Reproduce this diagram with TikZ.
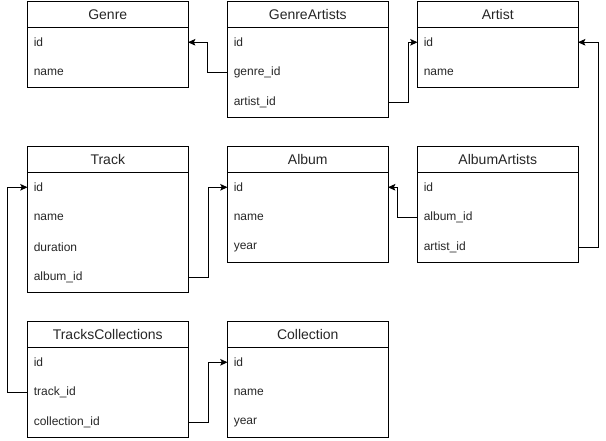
\documentclass[tikz,border=0pt]{standalone}
\usepackage{fontspec}
\setmainfont{Liberation Sans}
\usetikzlibrary{calc,arrows.meta}
\tikzset{
  x=0.75pt, y=-0.75pt,
  hdr/.style={inner sep=0pt, minimum width=120pt, minimum height=19.5pt, anchor=north west, font=\fontsize{10.5}{12}\selectfont, text=black!85},
  fld/.style={inner xsep=4.5pt, inner ysep=0pt, text width=111pt, align=left, minimum height=22.5pt, anchor=north west, font=\fontsize{9}{11}\selectfont, text=black!85},
  frame/.style={draw=black, line width=0.75pt},
  conn/.style={draw=black, line width=0.75pt, -{Stealth[length=5.5pt,width=5pt,inset=1.2pt]}},
}
\newcommand{\erbox}[6]{%
  \node[hdr] (#1) at (#2,#3) {#4};
  \foreach \f [count=\i] in {#5} {
    \node[fld] (#1-\i) at ($(#2,#3)+(0,{26+(\i-1)*30})$) {\f};
  }
  \draw[frame] (#1.north west) rectangle (#1-#6.south east);
  \draw[frame] (#1.south west) -- (#1.south east);
}
\begin{document}
\begin{tikzpicture}
\useasboundingbox (0,0) rectangle (606,440);
\erbox{genre}{27.5}{1}{Genre}{id,name}{2}
\erbox{ga}{227.5}{1}{GenreArtists}{id,genre\_id,artist\_id}{3}
\erbox{artist}{417.5}{1}{Artist}{id,name}{2}
\erbox{track}{27.5}{146}{Track}{id,name,duration,album\_id}{4}
\erbox{album}{227.5}{146}{Album}{id,name,year}{3}
\erbox{aa}{417.5}{146}{AlbumArtists}{id,album\_id,artist\_id}{3}
\erbox{tc}{27.5}{321}{TracksCollections}{id,track\_id,collection\_id}{3}
\erbox{coll}{227.5}{321}{Collection}{id,name,year}{3}
\draw[conn] (ga-2.west) -- ++(-20,0) |- (genre-1.east);
\draw[conn] (ga-3.east) -- ++(20,0) |- (artist-1.west);
\draw[conn] (aa-3.east) -- ++(20,0) |- (artist-1.east);
\draw[conn] (aa-2.west) -- ++(-20,0) |- (album-1.east);
\draw[conn] (track-4.east) -- ++(20,0) |- (album-1.west);
\draw[conn] (tc-2.west) -- ++(-20,0) |- (track-1.west);
\draw[conn] (tc-3.east) -- ++(20,0) |- (coll-1.west);
\end{tikzpicture}
\end{document}
